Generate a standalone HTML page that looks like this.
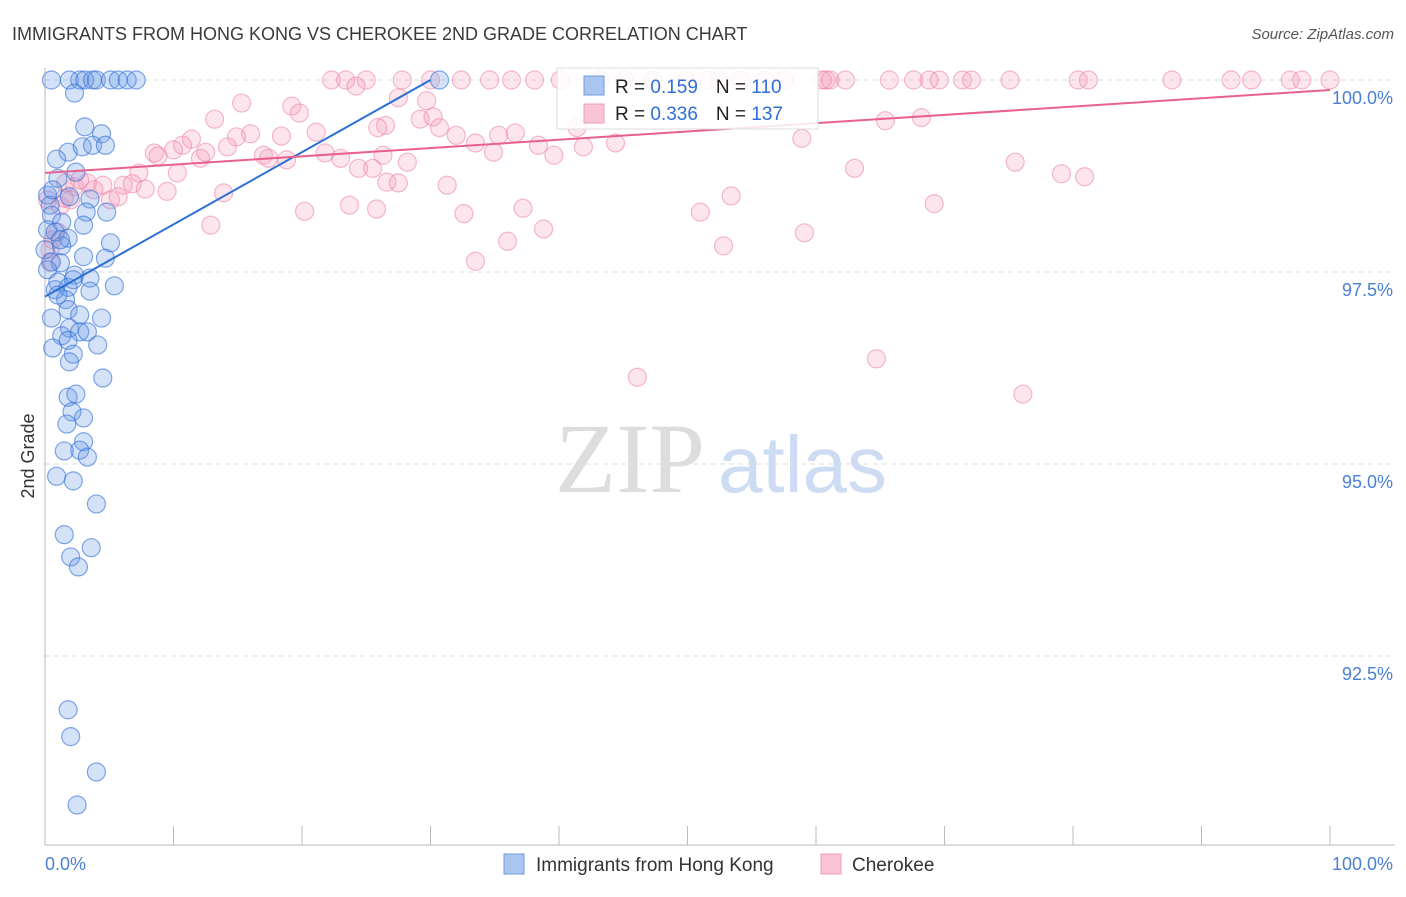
<!DOCTYPE html>
<html><head><meta charset="utf-8"><style>
body{margin:0;background:#fff;font-family:"Liberation Sans",sans-serif}
</style></head><body>
<svg id="chart" width="1406" height="892" xmlns="http://www.w3.org/2000/svg" font-family="Liberation Sans, sans-serif">
<text x="12" y="40" font-size="18" fill="#3a3a3a">IMMIGRANTS FROM HONG KONG VS CHEROKEE 2ND GRADE CORRELATION CHART</text>
<text x="1394" y="39" font-size="15" fill="#555" font-style="italic" text-anchor="end">Source: ZipAtlas.com</text>
<text transform="translate(34,456) rotate(-90)" font-size="18" fill="#333" text-anchor="middle">2nd Grade</text>
<g>
<text x="555" y="492" font-size="100" fill="#ddd" font-family="Liberation Serif, serif">ZIP</text>
<text x="718" y="492" font-size="80" fill="#cddcf2">atlas</text>
</g>
<g id="grid"></g><g id="axes"></g><g id="pts"></g><g id="lines"></g>
<g>
<rect x="557" y="68" width="261" height="61" fill="#fff" fill-opacity="0.85" stroke="#ddd"/>
<rect x="584" y="76" width="20" height="19" fill="#aac6f0" stroke="#6d9be0"/>
<rect x="584" y="104" width="20" height="19" fill="#f9c4d3" stroke="#ef9cb6"/>
<text x="615" y="93" font-size="19" fill="#222">R = <tspan fill="#2e6fd6"> 0.159</tspan><tspan dx="18">N = </tspan><tspan fill="#2e6fd6">110</tspan></text>
<text x="615" y="120" font-size="19" fill="#222">R = <tspan fill="#2e6fd6">0.336</tspan><tspan dx="18">N = </tspan><tspan fill="#2e6fd6">137</tspan></text>
</g>
<g>
<rect x="504" y="854" width="20" height="20" fill="#aac6f0" stroke="#6d9be0"/>
<text x="536" y="871" font-size="19" fill="#333">Immigrants from Hong Kong</text>
<rect x="821" y="854" width="20" height="20" fill="#f9c4d3" stroke="#ef9cb6"/>
<text x="852" y="871" font-size="19" fill="#333">Cherokee</text>
</g>
</svg>
<script>
const yTicks=[100,97.5,95,92.5];
const yTickLabels=["100.0%","97.5%","95.0%","92.5%"];
const xTicks=[0,10,20,30,40,50,60,70,80,90,100];
const blueX=[0.5,1.9,2.7,3.1,3.7,4.0,5.1,5.7,6.4,7.1,2.3,3.1,4.4,1.8,2.9,3.7,4.7,0.9,2.4,1.0,0.2,1.9,3.5,3.2,4.8,0.4,0.5,1.3,3.0,0.2,0.8,1.8,5.1,1.3,0,3.0,4.7,0.5,1.2,2.3,3.5,1.0,1.8,5.4,3.5,0.8,1.6,1.8,2.7,4.4,0.5,1.9,2.7,3.3,1.3,1.8,4.1,0.6,2.2,1.9,4.5,1.8,2.4,2.1,3.0,1.7,3.0,2.7,1.5,3.3,0.9,2.2,4.0,1.5,3.6,2.0,2.6,1.8,2.0,4.0,2.5,30.7,0.6,1.2,0.2,1.0,2.2];
const blueY=[100,100,100,100,100,100,100,100,100,100,99.83,99.39,99.30,99.06,99.13,99.15,99.15,98.97,98.80,98.72,98.50,98.48,98.45,98.28,98.28,98.37,98.24,98.15,98.11,98.05,98.02,97.94,97.88,97.84,97.79,97.70,97.68,97.63,97.62,97.46,97.42,97.37,97.30,97.32,97.25,97.27,97.14,97.01,96.94,96.90,96.90,96.77,96.72,96.72,96.67,96.61,96.55,96.51,96.43,96.33,96.12,95.87,95.91,95.68,95.60,95.52,95.29,95.18,95.17,95.09,94.84,94.78,94.48,94.08,93.91,93.79,93.66,91.80,91.45,90.99,90.56,100,98.57,97.92,97.53,97.20,97.40];
const pinkX=[22.3,23.4,25.0,27.8,30.0,32.4,34.6,36.3,38.1,40.1,43.2,45.1,47.3,49.9,51.6,52.5,54.1,56.0,57.6,60.5,60.8,61.1,62.3,65.7,67.6,68.8,69.6,71.4,72.1,75.1,80.4,81.2,87.7,92.3,93.9,96.9,97.8,100,
24.2,27.5,29.7,15.3,19.2,19.8,13.2,29.2,30.2,21.1,30.7,32.0,26.5,25.9,11.4,10.7,14.9,18.4,16.0,14.2,12.1,8.5,8.8,10.0,12.5,17.0,17.4,18.8,21.8,23.0,26.3,28.2,24.4,25.5,33.5,35.3,36.6,34.9,38.4,39.6,41.9,44.4,41.4,58.9,65.4,68.2,75.5,63.0,79.1,80.9,10.3,7.3,4.5,6.1,6.8,3.3,7.8,9.5,2.3,2.0,3.8,5.1,5.7,13.9,26.6,27.5,31.3,20.2,23.7,25.8,32.6,37.2,12.9,36.0,38.8,33.5,51.0,53.4,52.8,59.1,69.2,64.7,46.1,76.1,1.2,1.5,1.0,0.6,0.4,1.6,2.7,0.4,0.2];
const pinkY=[100,100,100,100,100,100,100,100,100,100,100,100,100,100,100,100,100,100,100,100,100,100,100,100,100,100,100,100,100,100,100,100,100,100,100,100,100,100,
99.92,99.77,99.73,99.70,99.66,99.57,99.49,99.49,99.52,99.32,99.38,99.28,99.41,99.38,99.23,99.15,99.26,99.27,99.30,99.13,98.98,99.05,99.01,99.09,99.06,99.02,98.98,98.96,99.05,98.98,99.02,98.93,98.85,98.85,99.18,99.28,99.31,99.06,99.15,99.02,99.13,99.18,99.38,99.24,99.47,99.51,98.93,98.85,98.78,98.74,98.79,98.79,98.63,98.63,98.65,98.66,98.58,98.55,98.61,98.44,98.57,98.44,98.48,98.53,98.67,98.66,98.63,98.29,98.37,98.32,98.26,98.33,98.11,97.90,98.06,97.64,98.28,98.49,97.84,98.01,98.39,96.37,96.13,95.91,98.36,98.46,98.02,97.92,97.79,98.66,98.70,97.63,98.44];
const blueTrendX=[0,30];
const blueTrendY=[97.18,100];
const pinkTrendX=[0,100];
const pinkTrendY=[98.79,99.87];
const NS="http://www.w3.org/2000/svg";
function sx(v){return 45+v*12.85;}
function sy(v){return 80+(100-v)*76.8;}
function mk(tag,attrs,parent){const e=document.createElementNS(NS,tag);for(const k in attrs)e.setAttribute(k,attrs[k]);document.getElementById(parent).appendChild(e);return e;}
yTicks.forEach((t,i)=>{
 const l=mk('line',{x1:45,x2:1395,y1:sy(t),y2:sy(t),stroke:'#ddd','stroke-dasharray':'5,4'},'grid');
 
 
 const tx=mk('text',{x:1393,y:sy(t)+24,'font-size':18,fill:'#4a7fd4','text-anchor':'end'},'grid');
 tx.textContent=yTickLabels[i];
 
 
});
const ya=mk('line',{x1:45,x2:45,y1:68,y2:845,stroke:'#bbb'},'axes');


const xa=mk('line',{x1:45,x2:1395,y1:845,y2:845,stroke:'#bbb'},'axes');


xTicks.forEach(t=>{
 const l=mk('line',{x1:sx(t),x2:sx(t),y1:826,y2:845,stroke:'#bbb'},'axes');
 
 
});
const x0=mk('text',{x:45,y:870,'font-size':18,fill:'#4a7fd4'},'axes');x0.textContent='0.0%';


const x1=mk('text',{x:1393,y:870,'font-size':18,fill:'#4a7fd4','text-anchor':'end'},'axes');x1.textContent='100.0%';


pinkX.forEach((v,i)=>{
 const c=mk('circle',{cx:sx(v),cy:sy(pinkY[i]),r:9,fill:'rgba(242,150,180,0.25)',stroke:'rgba(236,130,165,0.55)','stroke-width':1.2},'pts');
 
 
});
blueX.forEach((v,i)=>{
 const c=mk('circle',{cx:sx(v),cy:sy(blueY[i]),r:9,fill:'rgba(100,150,230,0.28)',stroke:'rgba(50,110,215,0.6)','stroke-width':1.2},'pts');
 
 
});
const bl=mk('line',{x1:sx(blueTrendX[0]),y1:sy(blueTrendY[0]),x2:sx(blueTrendX[1]),y2:sy(blueTrendY[1]),stroke:'#2a6fd6','stroke-width':2},'lines');


const pl=mk('line',{x1:sx(pinkTrendX[0]),y1:sy(pinkTrendY[0]),x2:sx(pinkTrendX[1]),y2:sy(pinkTrendY[1]),stroke:'#e8618c','stroke-width':2},'lines');


</script>
</body></html>
